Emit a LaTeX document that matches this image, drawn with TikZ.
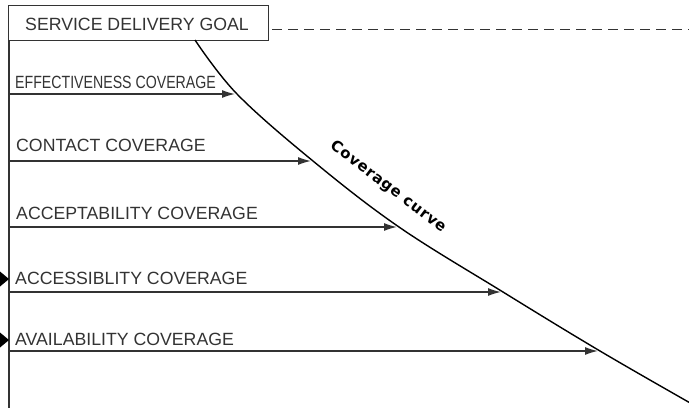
\documentclass[tikz,border=0pt]{standalone}
\usepackage{fontspec}
\setmainfont{Liberation Sans}
\newfontfamily\curvefont[LetterSpace=5]{DejaVu Sans}
\usetikzlibrary{arrows.meta}
\definecolor{ln}{gray}{0.2}
\tikzset{
  lbl/.style={anchor=base west, inner sep=0pt, text=ln, font=\fontsize{17.7}{17.7}\selectfont},
  arr/.style={draw=ln, line width=1.3pt, -{Latex[length=13pt,width=8pt]}},
  axisline/.style={draw=ln, line width=1.4pt},
  goalbox/.style={draw=ln, line width=1pt, minimum width=260pt, minimum height=35pt, inner sep=0pt, anchor=north west},
}
\begin{document}
\begin{tikzpicture}[x=1pt,y=-1pt]
\useasboundingbox (0,0) rectangle (689,408);
\clip (0,0) rectangle (689,408);
% goal box
\node[goalbox] (goal) at (8,5) {};
\node[lbl] (goaltxt) at (25,30) {SERVICE DELIVERY GOAL};
\coordinate (dashend) at (689,29);
\draw[ln, line width=1pt, dash pattern=on 10pt off 6pt] (goal.east |- dashend) ++(3,0) -- (dashend);
% axis
\coordinate (axtop) at (9,40);
\coordinate (axbot) at (9,408);
\draw[axisline] (axtop) -- (axbot);
% diamonds
\fill[black] (-9,279) -- (0,271.5) -- (9,279) -- (0,286.5) -- cycle;
\fill[black] (-9,340) -- (0,332.5) -- (9,340) -- (0,347.5) -- cycle;
% curve
\coordinate (c0) at (195,40);
\coordinate (c1) at (237,94);
\coordinate (c2) at (313,161);
\coordinate (c3) at (399,227);
\coordinate (c4) at (503,292);
\coordinate (c5) at (600,351);
\coordinate (c6) at (692,404);
\draw[black, line width=1.4pt] plot[smooth, tension=0.6] coordinates {(c0) (c1) (c2) (c3) (c4) (c5) (c6)};
\node[rotate=-37, inner sep=0pt, font=\curvefont\bfseries\fontsize{15}{15}\selectfont] (curvelbl) at (388,187) {Coverage curve};
% arrows
\coordinate (s1) at (9,94);
\coordinate (s2) at (9,161);
\coordinate (s3) at (9,227);
\coordinate (s4) at (9,292);
\coordinate (s5) at (9,351);
\coordinate (t1) at (235,94);
\coordinate (t2) at (311,161);
\coordinate (t3) at (397,227);
\coordinate (t4) at (501,292);
\coordinate (t5) at (598,351);
\draw[arr] (s1) -- (t1);
\draw[arr] (s2) -- (t2);
\draw[arr] (s3) -- (t3);
\draw[arr] (s4) -- (t4);
\draw[arr] (s5) -- (t5);
% labels
\node[lbl] (l1) at (15,88) {\scalebox{0.8}[1]{EFFECTIVENESS COVERAGE}};
\node[lbl] (l2) at (16,151) {CONTACT COVERAGE};
\node[lbl] (l3) at (16,219) {ACCEPTABILITY COVERAGE};
\node[lbl] (l4) at (15,284) {ACCESSIBLITY COVERAGE};
\node[lbl] (l5) at (15,345) {AVAILABILITY COVERAGE};
\end{tikzpicture}
\end{document}
